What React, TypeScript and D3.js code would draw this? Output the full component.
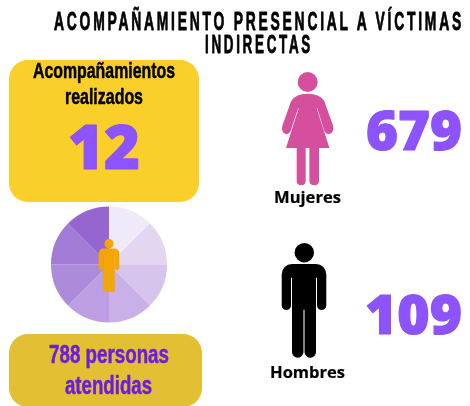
import React from "react";
import * as d3 from "d3";

const titleLines = ["ACOMPAÑAMIENTO PRESENCIAL A VÍCTIMAS", "INDIRECTAS"];
const accompanimentLabel = ["Acompañamientos", "realizados"];
const accompanimentCount = 12;
const attendedLabel = ["788 personas", "atendidas"];
const womenLabel = "Mujeres";
const womenCount = 679;
const menLabel = "Hombres";
const menCount = 109;
const wheelValues = [1, 1, 1, 1, 1, 1, 1, 1];
const wheelColors = ["#F0E9F9", "#E2D6F1", "#D6C4EC", "#C9B0E8", "#BC9FE3", "#AD8BDB", "#A27BD7", "#9566D0"];

const NARROW = "'Liberation Sans Narrow', 'Liberation Sans', sans-serif";
const OPEN = "'Open Sans', sans-serif";

function manPath(x: number, top: number, w: number, h: number, armW: number, gap: number) {
  const p = d3.path();
  const bodyTop = top + 0.18 * h;
  const slitTop = bodyTop + 0.12 * h;
  const left = x, right = x + w;
  const armBottom = top + 0.583 * h;
  const crotch = top + 0.58 * h;
  const bottom = top + h;
  const mid = x + w / 2;
  const sr = armW * 1.1;
  const legR = armW * 0.6;
  p.moveTo(left, bodyTop + sr);
  p.arcTo(left, bodyTop, left + sr, bodyTop, sr);
  p.lineTo(right - sr, bodyTop);
  p.arcTo(right, bodyTop, right, bodyTop + sr, sr);
  p.lineTo(right, armBottom - armW / 2);
  p.arc(right - armW / 2, armBottom - armW / 2, armW / 2, 0, Math.PI);
  p.lineTo(right - armW, slitTop);
  p.lineTo(right - armW - gap, slitTop);
  p.lineTo(right - armW - gap, bottom - legR);
  p.arcTo(right - armW - gap, bottom, right - armW - gap - legR, bottom, legR);
  p.lineTo(mid + gap / 2 + legR, bottom);
  p.arcTo(mid + gap / 2, bottom, mid + gap / 2, bottom - legR, legR);
  p.lineTo(mid + gap / 2, crotch);
  p.lineTo(mid - gap / 2, crotch);
  p.lineTo(mid - gap / 2, bottom - legR);
  p.arcTo(mid - gap / 2, bottom, mid - gap / 2 - legR, bottom, legR);
  p.lineTo(left + armW + gap + legR, bottom);
  p.arcTo(left + armW + gap, bottom, left + armW + gap, bottom - legR, legR);
  p.lineTo(left + armW + gap, slitTop);
  p.lineTo(left + armW, slitTop);
  p.lineTo(left + armW, armBottom - armW / 2);
  p.arc(left + armW / 2, armBottom - armW / 2, armW / 2, 0, Math.PI);
  p.closePath();
  return p.toString();
}

function womanPath() {
  const c = 307.7;
  const p = d3.path();
  p.moveTo(c, 93.7);
  p.quadraticCurveTo(c + 12, 93.7, c + 16.5, 101);
  p.lineTo(c + 25.3, 125.5);
  p.quadraticCurveTo(c + 26.8, 132.5, c + 21.5, 134);
  p.quadraticCurveTo(c + 18, 134.5, c + 16.5, 130.5);
  p.lineTo(c + 9.6, 108.3);
  p.lineTo(c + 9, 108.3);
  p.lineTo(c + 21.7, 148);
  p.lineTo(c + 11.3, 148);
  p.lineTo(c + 11.3, 180.5);
  p.quadraticCurveTo(c + 11.3, 185.3, c + 6.5, 185.3);
  p.quadraticCurveTo(c + 1.7, 185.3, c + 1.7, 180.5);
  p.lineTo(c + 1.7, 148);
  p.lineTo(c - 2, 148);
  p.lineTo(c - 2, 180.5);
  p.quadraticCurveTo(c - 2, 185.3, c - 6.5, 185.3);
  p.quadraticCurveTo(c - 11, 185.3, c - 11, 180.5);
  p.lineTo(c - 11, 148);
  p.lineTo(c - 21.7, 148);
  p.lineTo(c - 9, 108.3);
  p.lineTo(c - 9.6, 108.3);
  p.lineTo(c - 17, 130.5);
  p.quadraticCurveTo(c - 18.5, 134.5, c - 22, 134);
  p.quadraticCurveTo(c - 26.8, 132.5, c - 25.3, 125.5);
  p.lineTo(c - 16.5, 101);
  p.quadraticCurveTo(c - 12, 93.7, c, 93.7);
  p.closePath();
  return p.toString();
}

function Fit({ x, y, w, size, fill, font, weight, spacing, thick = 0, children }: any) {
  return (
    <text x={x} y={y} textLength={w} lengthAdjust="spacingAndGlyphs" fontSize={size} fill={fill}
      stroke={fill} strokeWidth={thick} strokeLinejoin="round"
      fontFamily={font} fontWeight={weight} letterSpacing={spacing} style={{ filter: "url(#soft)" }}>
      {children}
    </text>
  );
}

export default function App() {
  const pie = d3.pie<number>().sort(null)(wheelValues);
  const arc = d3.arc<d3.PieArcDatum<number>>().innerRadius(0).outerRadius(58);
  return (
    <svg width={470} height={406} viewBox="0 0 470 406"
      style={{ position: "absolute", left: 0, top: 0, background: "#fff" }}>
      <defs>
        <filter id="soft" x="-5%" y="-5%" width="110%" height="110%">
          <feGaussianBlur stdDeviation="0.35" />
        </filter>
      </defs>
      <Fit x={54} y={30} w={410} size={25} fill="#000" font={NARROW} weight={700} spacing={5} thick={0.8}>{titleLines[0]}</Fit>
      <Fit x={205} y={53} w={108} size={25} fill="#000" font={NARROW} weight={700} spacing={5} thick={0.8}>{titleLines[1]}</Fit>

      <rect x={9} y={60} width={190} height={142} rx={19} fill="#FBCF2A" />
      <Fit x={33} y={77.5} w={142} size={21.5} fill="#000" font={NARROW} weight={700} thick={0.5}>{accompanimentLabel[0]}</Fit>
      <Fit x={65} y={103.5} w={78} size={21.5} fill="#000" font={NARROW} weight={700} thick={0.5}>{accompanimentLabel[1]}</Fit>
      <Fit x={68} y={169} w={72} size={62} fill="#8C52FF" font={OPEN} weight={800} thick={1.2}>{accompanimentCount}</Fit>

      <g transform="translate(109,264.5)">
        {pie.map((d, i) => (
          <path key={i} d={arc(d) as string} fill={wheelColors[i]} />
        ))}
      </g>
      <circle cx={109} cy={243.7} r={4.6} fill="#F5A500" />
      <path d={manPath(98.7, 239, 20.6, 53.3, 4.2, 0.3)} fill="#F5A500" />

      <rect x={9} y={334} width={193} height={73} rx={19} fill="#E3BF33" />
      <Fit x={49} y={363} w={120} size={25} fill="#6A1FE0" font={NARROW} weight={700} thick={0.5}>{attendedLabel[0]}</Fit>
      <Fit x={65} y={394} w={87} size={25} fill="#6A1FE0" font={NARROW} weight={700} thick={0.5}>{attendedLabel[1]}</Fit>

      <circle cx={307.7} cy={82} r={10} fill="#D64F9C" />
      <path d={womanPath()} fill="#D64F9C" />
      <Fit x={274} y={203} w={67} size={15.5} fill="#000" font={OPEN} weight={700} thick={0.2}>{womenLabel}</Fit>
      <Fit x={366} y={150} w={96} size={54} fill="#8C52FF" font={OPEN} weight={800} thick={1.2}>{womenCount}</Fit>

      <circle cx={304.3} cy={252.7} r={9.7} fill="#000" />
      <path d={manPath(281.7, 243.5, 44.6, 114.2, 9.3, 1)} fill="#000" />
      <Fit x={270} y={378} w={75} size={15.5} fill="#000" font={OPEN} weight={700} thick={0.2}>{menLabel}</Fit>
      <Fit x={365} y={334} w={97} size={54} fill="#8C52FF" font={OPEN} weight={800} thick={1.2}>{menCount}</Fit>
    </svg>
  );
}
